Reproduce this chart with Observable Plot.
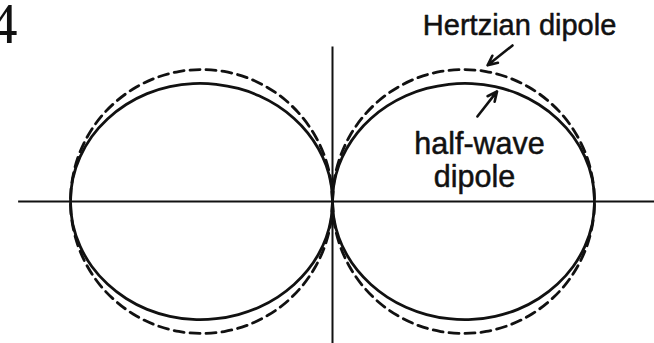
<!DOCTYPE html>
<html>
<head>
<meta charset="utf-8">
<script src="https://cdn.jsdelivr.net/npm/d3@7"></script>
<script src="https://cdn.jsdelivr.net/npm/@observablehq/plot@0.6"></script>
<style>
  body { margin: 0; background: #fff; }
  #chart svg { display: block; }
</style>
</head>
<body>
<div id="chart"></div>
<script>
// Angle measured from the dipole axis (degrees), one quadrant; the patterns are symmetric.
const thetaDeg = [0, 5, 10, 15, 20, 25, 30, 35, 40, 45, 50, 55, 60, 65, 70, 75, 80, 85, 90];
// Normalised field-pattern radius for each antenna.
const hertzianR = [0, 0.087, 0.174, 0.259, 0.342, 0.423, 0.5, 0.574, 0.643, 0.707, 0.766, 0.819, 0.866, 0.906, 0.94, 0.966, 0.985, 0.996, 1];
const halfWaveR = [0, 0.069, 0.138, 0.207, 0.277, 0.347, 0.418, 0.489, 0.559, 0.628, 0.695, 0.758, 0.817, 0.869, 0.914, 0.951, 0.978, 0.995, 1];

// Extent of the two reference axes (data units).
const axisXExtent = [-1.198, 1.25];
const axisYExtent = [0.585, -0.62];

// Annotation text and arrows (data units).
const labelText = ["Hertzian dipole", "half-wave", "dipole"];
const labelX = [0.714, 0.561, 0.542];
const labelY = [0.664, 0.217, 0.092];
const labelSize = [29, 30.5, 30.5];
const arrowX1 = [0.687, 0.553];
const arrowY1 = [0.591, 0.322];
const arrowX2 = [0.592, 0.628];
const arrowY2 = [0.516, 0.417];

const panelTag = ["4"];

// Build the two lobes (right and left) of a polar pattern as Cartesian points.
function lobes(R, name) {
  const pts = [];
  for (const side of [1, -1]) {
    const lobe = `${name}-${side}`;
    for (let i = 0; i < thetaDeg.length; i++) {
      const t = thetaDeg[i] * Math.PI / 180;
      pts.push({lobe, x: side * R[i] * Math.sin(t), y: R[i] * Math.cos(t)});
    }
    for (let i = thetaDeg.length - 2; i >= 0; i--) {
      const t = thetaDeg[i] * Math.PI / 180;
      pts.push({lobe, x: side * R[i] * Math.sin(t), y: -R[i] * Math.cos(t)});
    }
  }
  return pts;
}

const hertzian = lobes(hertzianR, "hertzian");
const halfWave = lobes(halfWaveR, "halfwave");
const labels = labelText.map((text, i) => ({text, x: labelX[i], y: labelY[i], size: labelSize[i]}));
const arrows = arrowX1.map((x1, i) => ({x1, y1: arrowY1[i], x2: arrowX2[i], y2: arrowY2[i]}));

const ink = "#111";

const chart = Plot.plot({
  width: 654,
  height: 343,
  margin: 0,
  style: {background: "#fff"},
  x: {domain: [-1, 1], range: [70, 594], axis: null},
  y: {domain: [-1, 1], range: [465, -63], axis: null},
  marks: [
    Plot.ruleY([0], {x1: axisXExtent[0], x2: axisXExtent[1], stroke: ink, strokeWidth: 2}),
    Plot.ruleX([0], {y1: axisYExtent[0], y2: axisYExtent[1], stroke: ink, strokeWidth: 2}),
    Plot.line(hertzian, {x: "x", y: "y", z: "lobe", curve: "catmull-rom", stroke: ink, strokeWidth: 2.8, strokeDasharray: "10,6"}),
    Plot.line(halfWave, {x: "x", y: "y", z: "lobe", curve: "catmull-rom", stroke: ink, strokeWidth: 2.8}),
    Plot.arrow(arrows, {x1: "x1", y1: "y1", x2: "x2", y2: "y2", stroke: ink, strokeWidth: 2.6, headLength: 10, headAngle: 50}),
    ...labels.map(d => Plot.text([d], {x: "x", y: "y", text: "text", fontSize: d.size, fill: ink, stroke: ink, strokeWidth: 0.5, fontFamily: "Liberation Sans, Arial, sans-serif"})),
    Plot.text(panelTag, {frameAnchor: "top-left", text: d => d, textAnchor: "end", lineAnchor: "top", dx: 17, dy: 3, fontSize: 56, fill: ink, fontFamily: "Liberation Serif, Times New Roman, serif"})
  ]
});

document.getElementById("chart").append(chart);
</script>
</body>
</html>
